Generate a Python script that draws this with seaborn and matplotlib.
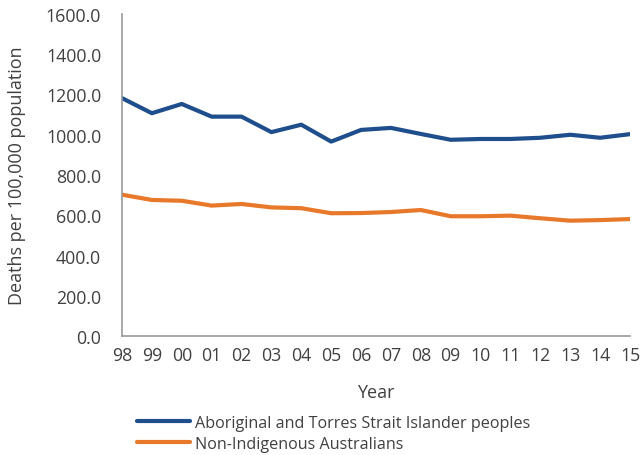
import matplotlib
matplotlib.use("Agg")
import matplotlib.pyplot as plt
import seaborn as sns
import pandas as pd
from matplotlib.lines import Line2D

years = ["98", "99", "00", "01", "02", "03", "04", "05", "06", "07", "08",
         "09", "10", "11", "12", "13", "14", "15"]
indigenous = [1182, 1107, 1153, 1090, 1090, 1013, 1050, 966, 1024, 1034, 1004,
              975, 979, 979, 985, 1000, 985, 1003]
non_indigenous = [702, 676, 672, 648, 656, 639, 635, 610, 611, 616, 626,
                  595, 595, 598, 585, 573, 576, 581]
series_names = ["Aboriginal and Torres Strait Islander peoples", "Non-Indigenous Australians"]
y_ticks = [0, 200, 400, 600, 800, 1000, 1200, 1400, 1600]

sns.set_theme(style="white")
plt.rcParams["font.family"] = ["Open Sans", "DejaVu Sans"]

df = pd.DataFrame({
    "Year": list(range(len(years))) * 2,
    "Rate": indigenous + non_indigenous,
    "Group": [series_names[0]] * len(years) + [series_names[1]] * len(years),
})

fig = plt.figure(figsize=(6.42, 4.56), dpi=100)
ax = fig.add_axes([122 / 642, 1 - 337 / 456, (630 - 122) / 642, (337 - 15) / 456])
sns.lineplot(data=df, x="Year", y="Rate", hue="Group",
             palette=["#1F4E8C", "#E8782A"], linewidth=3, ax=ax, legend=False)

ax.set_xlim(0, len(years) - 1)
ax.set_ylim(0, 1600)
ax.set_xticks(range(len(years)))
ax.set_xticklabels(years)
ax.set_yticks(y_ticks)
ax.set_yticklabels([f"{v:.1f}" for v in y_ticks])
ax.tick_params(axis="both", labelsize=12.8, colors="#404040", length=5, width=1,
               color="#999999", direction="out")
ax.tick_params(axis="x", pad=2)
ax.tick_params(axis="y", pad=10)
for s in ["top", "right"]:
    ax.spines[s].set_visible(False)
for s in ["left", "bottom"]:
    ax.spines[s].set_color("#999999")
    ax.spines[s].set_linewidth(1.2)
ax.set_xlabel("Year", fontsize=13, color="#404040", labelpad=14)
ax.set_ylabel("Deaths per 100,000 population", fontsize=13, color="#404040", labelpad=14)

handles = [Line2D([], [], color="#1F4E8C", linewidth=3),
           Line2D([], [], color="#E8782A", linewidth=3)]
fig.legend(handles, series_names, loc="upper left", bbox_to_anchor=(137 / 642, 1 - 416 / 456),
           frameon=False, fontsize=11.6, handlelength=3.3, handletextpad=0.3,
           labelspacing=0.28, labelcolor="#404040", borderaxespad=0, borderpad=0)

fig.savefig("out.png", dpi=100)
